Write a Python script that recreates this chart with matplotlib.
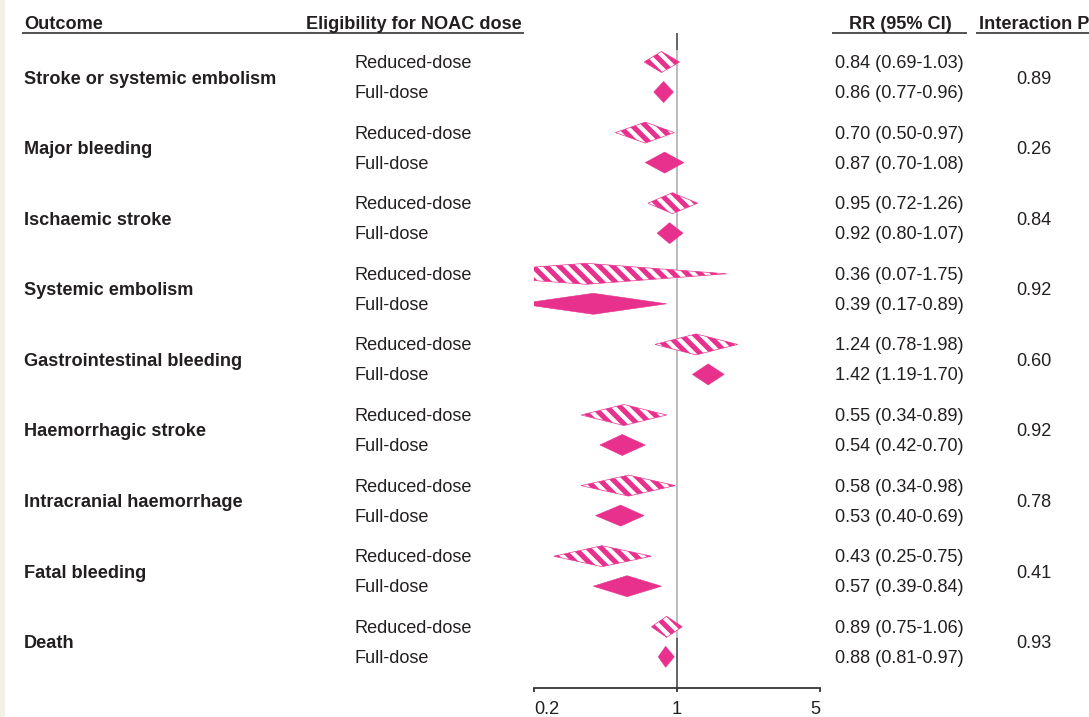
import matplotlib
matplotlib.use("Agg")
import matplotlib.pyplot as plt
import matplotlib.transforms as mtransforms
from matplotlib.lines import Line2D
from matplotlib.patches import Rectangle

# data
outcomes = ["Stroke or systemic embolism", "Major bleeding", "Ischaemic stroke",
            "Systemic embolism", "Gastrointestinal bleeding", "Haemorrhagic stroke",
            "Intracranial haemorrhage", "Fatal bleeding", "Death"]
reduced_rr = [0.84, 0.70, 0.95, 0.36, 1.24, 0.55, 0.58, 0.43, 0.89]
reduced_lo = [0.69, 0.50, 0.72, 0.07, 0.78, 0.34, 0.34, 0.25, 0.75]
reduced_hi = [1.03, 0.97, 1.26, 1.75, 1.98, 0.89, 0.98, 0.75, 1.06]
full_rr = [0.86, 0.87, 0.92, 0.39, 1.42, 0.54, 0.53, 0.57, 0.88]
full_lo = [0.77, 0.70, 0.80, 0.17, 1.19, 0.42, 0.40, 0.39, 0.81]
full_hi = [0.96, 1.08, 1.07, 0.89, 1.70, 0.70, 0.69, 0.84, 0.97]
p_interaction = ["0.89", "0.26", "0.84", "0.92", "0.60", "0.92", "0.78", "0.41", "0.93"]
dose_labels = ["Reduced-dose", "Full-dose"]
x_ticks = [0.2, 1, 5]
x_tick_labels = ["0.2", "1", "5"]

PINK = "#e8308d"
TEXT = "#231f20"
W, H, DPI = 1089, 717, 80

plt.rcParams["font.family"] = ["Liberation Sans", "DejaVu Sans"]
plt.rcParams["hatch.linewidth"] = 4.6
FS = 16.3

fig = plt.figure(figsize=(W / DPI, H / DPI), dpi=DPI)
fig.patches.append(Rectangle((0, 0), 4 / W, 1, transform=fig.transFigure,
                             color="#f2f0e4", zorder=0))

# axes in pixel-row units so the rows line up with the text columns
ax = fig.add_axes([534 / W, 1 - 688 / H, (820 - 534) / W, (688 - 33) / H])
ax.set_xscale("log")
ax.set_xlim(0.2, 5)
ax.set_ylim(688, 33)
ax.patch.set_alpha(0)
for s in ["top", "right", "left"]:
    ax.spines[s].set_visible(False)
ax.spines["bottom"].set_color("#333333")
ax.spines["bottom"].set_linewidth(1.6)
ax.set_yticks([])
ax.set_xticks(x_ticks)
ax.set_xticklabels(x_tick_labels, fontsize=FS, color=TEXT)
ax.xaxis.set_minor_locator(plt.NullLocator())
ax.tick_params(axis="x", direction="out", length=4, width=1.6, color="#333333", pad=8)
lbls = ax.get_xticklabels()
lbls[0].set_ha("left")
lbls[-1].set_ha("right")

# reference line at RR = 1
ax.axvline(1, color="#555555", lw=1.6, zorder=1)
ax.vlines(1, 50, 638, color="#bdbdbd", lw=1.8, zorder=1.5)

top, pitch, gap, half_h = 77, 70.6, 15, 10.5


def diamond(est, lo, hi, yc, hatched):
    xs = [lo, est, hi, est]
    ys = [yc, yc - half_h, yc, yc + half_h]
    if hatched:
        ax.fill(xs, ys, facecolor="white", edgecolor=PINK, hatch="\\\\",
                linewidth=0.6, zorder=3)
    else:
        ax.fill(xs, ys, facecolor=PINK, edgecolor=PINK, linewidth=0.5, zorder=3)


tr = mtransforms.blended_transform_factory(fig.transFigure, ax.transData)
for i, name in enumerate(outcomes):
    yc = top + i * pitch
    y_red, y_full = yc - gap, yc + gap
    diamond(reduced_rr[i], reduced_lo[i], reduced_hi[i], y_red, True)
    diamond(full_rr[i], full_lo[i], full_hi[i], y_full, False)
    ax.text(24 / W, yc + 6.5, name, transform=tr, fontsize=FS, fontweight="bold",
            color=TEXT, ha="left", va="baseline")
    ax.text(355 / W, y_red + 6, dose_labels[0], transform=tr, fontsize=FS,
            color=TEXT, ha="left", va="baseline")
    ax.text(355 / W, y_full + 6, dose_labels[1], transform=tr, fontsize=FS,
            color=TEXT, ha="left", va="baseline")
    ax.text(835 / W, y_red + 6,
            f"{reduced_rr[i]:.2f} ({reduced_lo[i]:.2f}-{reduced_hi[i]:.2f})",
            transform=tr, fontsize=FS, color=TEXT, ha="left", va="baseline")
    ax.text(835 / W, y_full + 6,
            f"{full_rr[i]:.2f} ({full_lo[i]:.2f}-{full_hi[i]:.2f})",
            transform=tr, fontsize=FS, color=TEXT, ha="left", va="baseline")
    ax.text(1034 / W, yc + 6.5, p_interaction[i], transform=tr, fontsize=FS,
            color=TEXT, ha="center", va="baseline")

# column headers with underlines
hy = 1 - 29 / H
fig.text(24 / W, hy, "Outcome", fontsize=FS, fontweight="bold", color=TEXT,
         ha="left", va="baseline")
fig.text(522 / W, hy, "Eligibility for NOAC dose", fontsize=FS, fontweight="bold",
         color=TEXT, ha="right", va="baseline")
fig.text(900 / W, hy, "RR (95% CI)", fontsize=FS, fontweight="bold", color=TEXT,
         ha="center", va="baseline")
fig.text(979 / W, hy, "Interaction P", fontsize=FS, fontweight="bold", color=TEXT,
         ha="left", va="baseline")
uy = 1 - 33 / H
for x0, x1 in [(23, 523), (833, 966), (977, 1089)]:
    fig.add_artist(Line2D([x0 / W, x1 / W], [uy, uy], color="#555555", lw=1.8,
                          transform=fig.transFigure))

fig.savefig("out.png", dpi=DPI)
